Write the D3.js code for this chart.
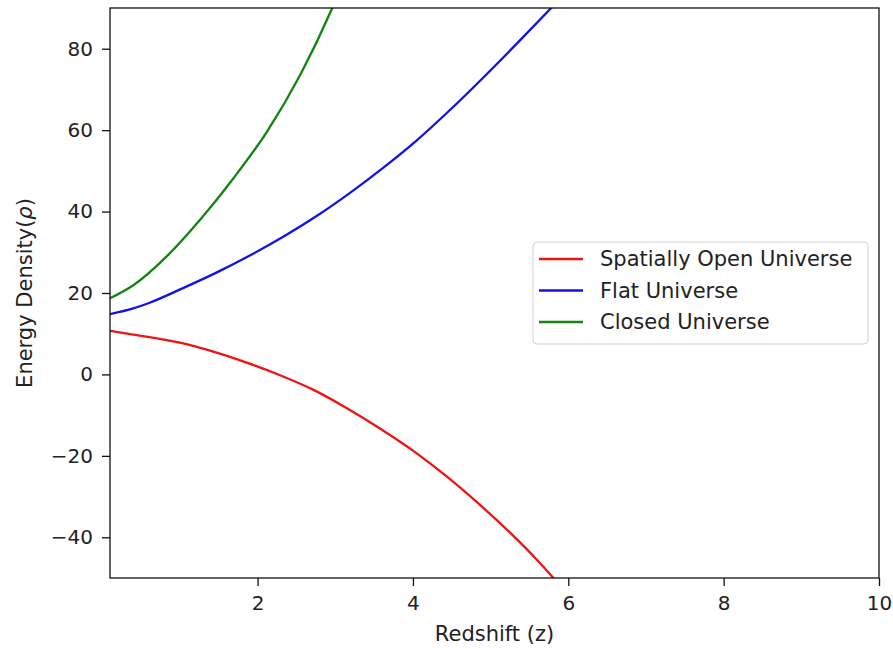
<!DOCTYPE html>
<html>
<head>
<meta charset="utf-8">
<script src="https://cdn.jsdelivr.net/npm/d3@7"></script>
<style>
  body { margin: 0; background: #fff; }
  svg text { font-family: "DejaVu Sans", sans-serif; fill: #222; }
</style>
</head>
<body>
<div id="chart"></div>
<script>
// values
const openZ = [0.1, 0.4, 1.0, 1.43, 1.86, 2.29, 2.72, 3.15, 3.57, 4.0, 4.43, 4.86, 5.29, 5.58, 5.8, 5.86];
const openRho = [10.7, 9.8, 7.8, 5.6, 2.9, -0.2, -3.8, -8.3, -13.2, -18.7, -25.0, -32.0, -39.6, -45.2, -49.8, -51.1];

const flatZ = [0.1, 0.4, 0.61, 1.04, 1.47, 1.9, 2.33, 2.76, 3.19, 3.62, 4.05, 4.48, 4.91, 5.34, 5.78, 5.85];
const flatRho = [14.8, 16.2, 17.6, 21.2, 25.0, 29.2, 33.8, 38.9, 44.6, 50.8, 57.5, 65.0, 73.0, 81.3, 90.0, 91.4];

const closedZ = [0.1, 0.4, 0.83, 1.26, 1.69, 2.12, 2.55, 2.95, 3.05];
const closedRho = [18.7, 21.9, 29.0, 38.0, 48.2, 59.6, 73.6, 89.5, 94.0];

const seriesNames = ['Spatially Open Universe', 'Flat Universe', 'Closed Universe'];
const seriesColors = ['#ec1414', '#1212e6', '#138313'];

const xTicks = [2, 4, 6, 8, 10];
const yTicks = [-40, -20, 0, 20, 40, 60, 80];

const margin = { top: 8, right: 14, bottom: 71, left: 110 };
const width = 893 - margin.left - margin.right;
const height = 649 - margin.top - margin.bottom;

const series = [
  { name: seriesNames[0], color: seriesColors[0], values: openZ.map((z, i) => ({ z, rho: openRho[i] })) },
  { name: seriesNames[1], color: seriesColors[1], values: flatZ.map((z, i) => ({ z, rho: flatRho[i] })) },
  { name: seriesNames[2], color: seriesColors[2], values: closedZ.map((z, i) => ({ z, rho: closedRho[i] })) }
];

const x = d3.scaleLinear().domain([0.1, 10]).range([0, width]);
const y = d3.scaleLinear().domain([-50, 90]).range([height, 0]);

const svg = d3
  .select('#chart')
  .append('svg')
  .attr('width', 893)
  .attr('height', 649);

const g = svg
  .append('g')
  .attr('transform', `translate(${margin.left},${margin.top})`);

g.append('clipPath')
  .attr('id', 'plotclip')
  .append('rect')
  .attr('width', width)
  .attr('height', height);

const line = d3
  .line()
  .x((d) => x(d.z))
  .y((d) => y(d.rho))
  .curve(d3.curveMonotoneX);

g.append('g')
  .attr('clip-path', 'url(#plotclip)')
  .selectAll('path')
  .data(series)
  .enter()
  .append('path')
  .attr('fill', 'none')
  .attr('stroke', (d) => d.color)
  .attr('stroke-width', 2.3)
  .attr('stroke-linejoin', 'round')
  .attr('d', (d) => line(d.values));

// axes
const xAxis = g
  .append('g')
  .attr('transform', `translate(0,${height})`)
  .call(d3.axisBottom(x).tickValues(xTicks).tickSize(8).tickPadding(10).tickSizeOuter(0));

const yAxis = g
  .append('g')
  .call(d3.axisLeft(y).tickValues(yTicks).tickSize(8).tickPadding(9).tickSizeOuter(0)
    .tickFormat((d) => (d < 0 ? '\u2212' + Math.abs(d) : d)));

[xAxis, yAxis].forEach((a) => {
  a.selectAll('text').style('font-size', '20px').attr('fill', '#222');
  a.selectAll('line').attr('stroke', '#111').attr('stroke-width', 1.3);
  a.select('.domain').remove();
});

// frame
g.append('rect')
  .attr('width', width)
  .attr('height', height)
  .attr('fill', 'none')
  .attr('stroke', '#111')
  .attr('stroke-width', 1.3);

// axis labels
svg.append('text')
  .attr('x', margin.left + width / 2)
  .attr('y', 641)
  .attr('text-anchor', 'middle')
  .style('font-size', '21px')
  .text('Redshift (z)');

const ylab = svg.append('text')
  .attr('transform', `translate(25,${margin.top + height / 2}) rotate(-90)`)
  .attr('text-anchor', 'middle')
  .attr('dy', '0.35em')
  .style('font-size', '21px');
ylab.append('tspan').text('Energy Density(');
ylab.append('tspan').attr('font-style', 'italic').text('\u03c1');
ylab.append('tspan').text(')');

// legend
const legend = svg.append('g').attr('transform', 'translate(533,242)');
legend.append('rect')
  .attr('width', 335)
  .attr('height', 102)
  .attr('rx', 4)
  .attr('fill', 'rgba(255,255,255,0.8)')
  .attr('stroke', '#d0d0d0');

const rows = legend
  .selectAll('.row')
  .data(series)
  .enter()
  .append('g')
  .attr('class', 'row')
  .attr('transform', (d, i) => `translate(0,${17 + i * 31.5})`);

rows.append('line')
  .attr('x1', 6)
  .attr('x2', 50)
  .attr('stroke', (d) => d.color)
  .attr('stroke-width', 2.3);

rows.append('text')
  .attr('x', 67)
  .attr('dy', '0.35em')
  .style('font-size', '21px')
  .text((d) => d.name);
</script>
</body>
</html>
